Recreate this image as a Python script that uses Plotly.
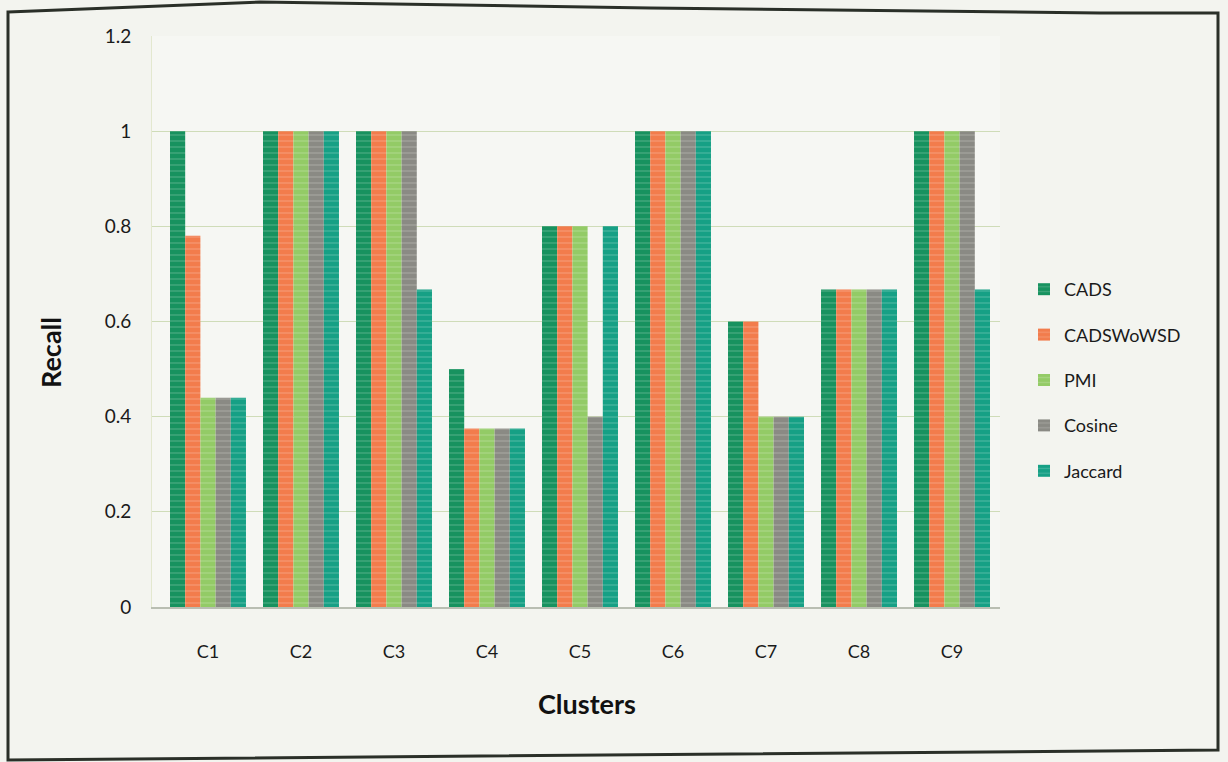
import plotly.graph_objects as go

# Recall per cluster for each similarity method
clusters = ["C1", "C2", "C3", "C4", "C5", "C6", "C7", "C8", "C9"]
cads = [1.0, 1.0, 1.0, 0.5, 0.8, 1.0, 0.6, 0.667, 1.0]
cads_wo_wsd = [0.78, 1.0, 1.0, 0.375, 0.8, 1.0, 0.6, 0.667, 1.0]
pmi = [0.44, 1.0, 1.0, 0.375, 0.8, 1.0, 0.4, 0.667, 1.0]
cosine = [0.44, 1.0, 1.0, 0.375, 0.4, 1.0, 0.4, 0.667, 1.0]
jaccard = [0.44, 1.0, 0.667, 0.375, 0.8, 1.0, 0.4, 0.667, 0.667]
y_ticks = [0, 0.2, 0.4, 0.6, 0.8, 1, 1.2]
y_tick_text = ["0", "0.2", "0.4", "0.6", "0.8", "1", "1.2"]

series = [
    ("CADS", cads, "#17925f"),
    ("CADSWoWSD", cads_wo_wsd, "#f27c4c"),
    ("PMI", pmi, "#93cb66"),
    ("Cosine", cosine, "#8a8a84"),
    ("Jaccard", jaccard, "#16a085"),
]

W, H = 1228, 762
L, R, T, B = 152, 228, 36, 155
PW, PH = W - L - R, H - T - B


def px(x):
    return (x - L) / PW


def py(y):
    return (H - B - y) / PH


fig = go.Figure()
for name, vals, color in series:
    fig.add_trace(go.Bar(
        name=name, x=clusters, y=vals, legendgroup=name,
        marker=dict(
            color=color, line=dict(width=0),
            pattern=dict(shape="-", size=6, solidity=0.25,
                         fgcolor="rgba(255,255,255,0.35)", fillmode="overlay"),
        ),
    ))

font = "Lato, 'Open Sans', sans-serif"

fig.update_layout(
    width=W, height=H,
    margin=dict(l=L, r=R, t=T, b=B),
    paper_bgcolor="#f3f4ef",
    plot_bgcolor="#f6f7f3",
    barmode="group", bargap=0.183, bargroupgap=0,
    font=dict(family=font, size=18, color="#1a1a1a"),
    showlegend=True,
    legend=dict(
        x=px(1024), y=py(380), xanchor="left", yanchor="middle",
        font=dict(size=18, color="#1a1a1a"),
        tracegroupgap=19, itemwidth=30, bgcolor="rgba(0,0,0,0)",
    ),
    xaxis=dict(
        range=[-0.602, 8.516],
        showgrid=False, showline=True, linecolor="#b9beb2", linewidth=1.5,
        ticks="", ticklabelstandoff=28, tickfont=dict(size=18),
    ),
    yaxis=dict(
        range=[0, 1.2], tickvals=y_ticks, ticktext=y_tick_text,
        showgrid=True, gridcolor="#cfdcb8", gridwidth=1.3,
        zeroline=False, showline=True, linecolor="#e3e8cf", linewidth=1,
        ticks="", ticklabelstandoff=16, tickfont=dict(size=19),
    ),
    annotations=[
        dict(text="<b>Recall</b>", x=px(50), y=py(353), xref="paper", yref="paper",
             xanchor="center", yanchor="middle",
             textangle=-90, showarrow=False, font=dict(size=27, color="#111111")),
        dict(text="<b>Clusters</b>", x=px(587), y=py(703), xref="paper", yref="paper",
             xanchor="center", yanchor="middle",
             showarrow=False, font=dict(size=27, color="#111111")),
    ],
    shapes=[
        dict(type="path", xref="paper", yref="paper",
             path=(f"M {px(8)},{py(12)} L {px(260)},{py(2)} L {px(650)},{py(8)} "
                   f"L {px(1100)},{py(13)} L {px(1218)},{py(13)} L {px(1218)},{py(750)} "
                   f"L {px(8)},{py(760)} Z"),
             line=dict(color="#2a2f28", width=3), fillcolor="rgba(0,0,0,0)", layer="above"),
    ],
)

fig.write_html("out.html")
